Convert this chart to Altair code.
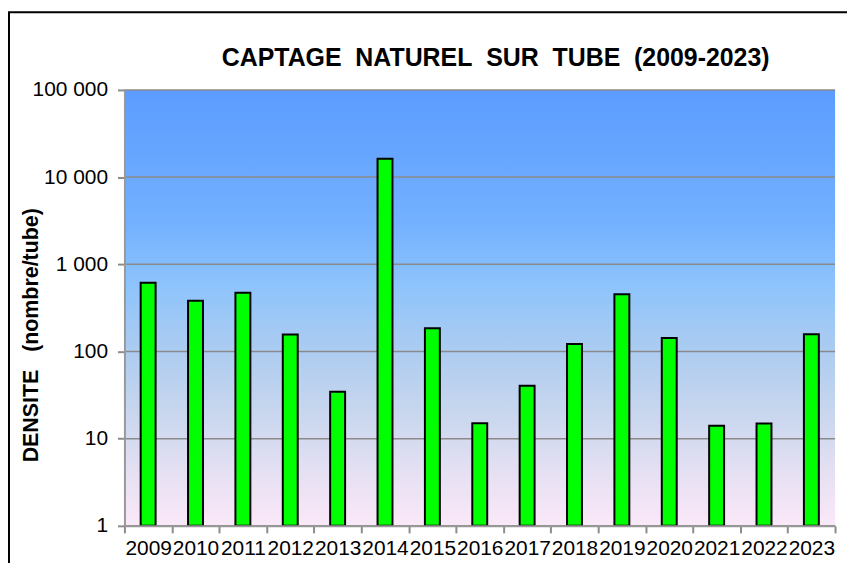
import altair as alt
import pandas as pd

# ---- data ----
years = [str(y) for y in range(2009, 2024)]
densite = [615, 383, 473, 157, 34.5, 16200, 185, 15, 40.5, 122, 453, 143, 14.1, 14.9, 158]
y_ticks = [1, 10, 100, 1000, 10000, 100000]
title_text = "CAPTAGE\u00a0\u00a0NATUREL\u00a0\u00a0SUR\u00a0\u00a0TUBE\u00a0\u00a0(2009-2023)"
y_title = "DENSITE\u00a0\u00a0\u00a0(nombre/tube)"

df = pd.DataFrame({"annee": years, "densite": densite})
grid_df = pd.DataFrame({"v": y_ticks})
one = pd.DataFrame({"k": [0]})

W, H = 714, 438
FONT = "Liberation Sans"

yscale = alt.Scale(type="log", domain=[1, 100000], nice=False)

yaxis = alt.Axis(
    values=y_ticks, grid=False,
    labelExpr="datum.value >= 1000 ? format(datum.value / 1000, 'd') + ' 000' : format(datum.value, 'd')",
    labelFont=FONT, labelFontSize=21, labelColor="black", labelPadding=10,
    tickSize=7, tickColor="#8c8c8c", tickWidth=2,
    domainColor="#999999", domainWidth=2, zindex=1,
    title=y_title, titleFont=FONT, titleFontSize=21.5, titleFontWeight="bold",
    titleColor="black", titleAngle=270, titleX=-93, titleY=246,
    titleBaseline="middle", titleAlign="center",
)

grad = alt.LinearGradient(
    gradient="linear",
    stops=[
        alt.GradientStop(color="#5C9CFF", offset=0),
        alt.GradientStop(color="#72B0FF", offset=0.3),
        alt.GradientStop(color="#8EC4FC", offset=0.45),
        alt.GradientStop(color="#ADCCF0", offset=0.6),
        alt.GradientStop(color="#CAD7EE", offset=0.75),
        alt.GradientStop(color="#E6E0F3", offset=0.88),
        alt.GradientStop(color="#FAE8F8", offset=1),
    ],
    x1=0, x2=0, y1=0, y2=1,
)

background = alt.Chart(one).mark_rect(color=grad).encode(
    x=alt.value(0), x2=alt.value(W), y=alt.value(0), y2=alt.value(H)
)

grid = alt.Chart(grid_df).mark_rule(color="#8a8a8a", strokeWidth=1.5).encode(
    y=alt.Y("v:Q", scale=yscale, axis=yaxis),
    x=alt.value(0), x2=alt.value(W),
)

bars = alt.Chart(df).mark_bar(
    fill="#00FF00", stroke="black", strokeWidth=2, width=alt.RelativeBandSize(0.315)
).encode(
    x=alt.X(
        "annee:O", sort=years,
        scale=alt.Scale(paddingInner=0, paddingOuter=0),
        axis=alt.Axis(
            title="", labelAngle=0, labelFont=FONT, labelFontSize=21, labelColor="black",
            labelPadding=5, labelOverlap=False, labelBound=False,
            tickBand="extent", tickSize=7, tickColor="#8c8c8c", tickWidth=2,
            domainColor="#999999", domainWidth=2, grid=False, zindex=1,
        ),
    ),
    y=alt.Y("densite:Q", scale=yscale, axis=yaxis),
    y2=alt.datum(1),
)

frame = alt.Chart(one).mark_rect(fillOpacity=0, stroke="black", strokeWidth=2).encode(
    x=alt.value(-116), x2=alt.value(W + 60), y=alt.value(-78), y2=alt.value(H + 80)
)

title = alt.Chart(one).mark_text(
    text=title_text, font=FONT, fontSize=25, fontWeight="bold", color="black",
    align="center", baseline="alphabetic",
).encode(x=alt.value(W / 2 + 16), y=alt.value(-24))

chart = alt.layer(background, grid, bars, frame, title).properties(
    width=W, height=H,
    autosize=alt.AutoSizeParams(type="none"),
    padding={"left": 117, "top": 81, "right": 12, "bottom": 36},
).configure_view(strokeWidth=0)

chart.save("out.html", embed_options={"renderer": "svg", "actions": False})
